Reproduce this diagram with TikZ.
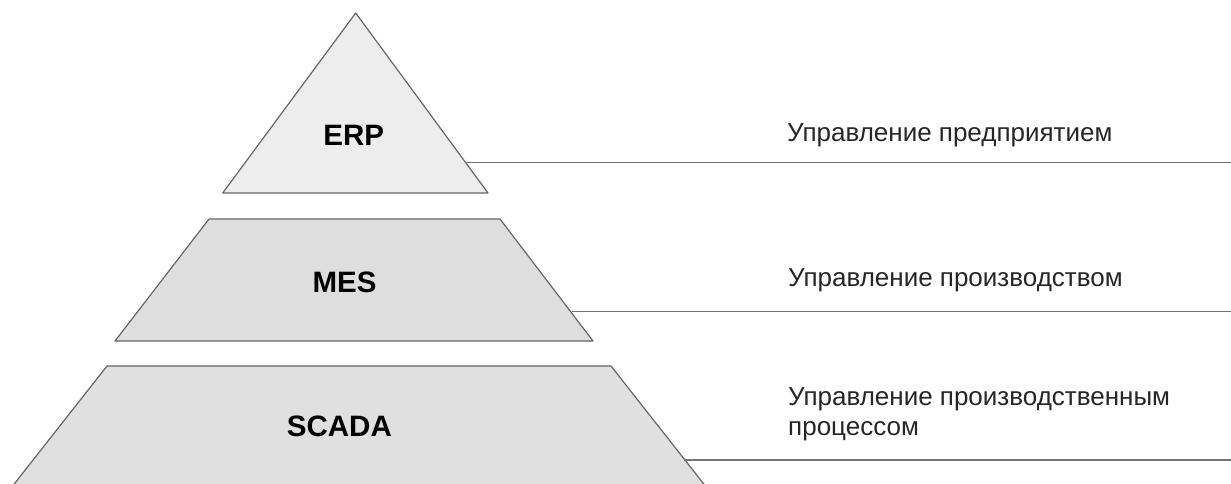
\documentclass[tikz,border=0pt]{standalone}
\usepackage{fontspec}
\setmainfont{Liberation Sans}
\usepackage{tikz}

\tikzset{
  tier/.style={draw=black!60, line width=1.2pt, line join=round},
  tiername/.style={font=\fontsize{29.5}{34}\selectfont\bfseries, inner sep=0pt},
  levellabel/.style={font=\fontsize{26}{30}\selectfont, anchor=base west, align=left, inner sep=0pt, text=black!85},
  leader/.style={draw=black!55, line width=1.2pt}
}

\begin{document}
\begin{tikzpicture}[x=1pt, y=-1pt]
    % Frame
    \useasboundingbox (0,0) rectangle (1231,483);
    \clip (0,0) rectangle (1231,483);

    % Pyramid tiers
    \draw[tier, fill=black!7] (355.7,13) -- (488,193) -- (222.7,193) -- cycle;
    \draw[tier, fill=black!13] (209,219) -- (500,219) -- (593,341) -- (115,341) -- cycle;
    \fill[black!12] (12.6,486) -- (107,366) -- (611,366) -- (705.4,486) -- cycle;
    \draw[tier] (12.6,486) -- (107,366) -- (611,366) -- (705.4,486);

    % Tier names
    \node[tiername] (erp) at (353.7,135) {ERP};
    \node[tiername] (mes) at (344.5,282) {MES};
    \node[tiername] (scada) at (339.4,426) {SCADA};

    % Leaders
    \coordinate (erpedge) at (466,162.7);
    \coordinate (erpend) at (1231,162.7);
    \coordinate (mesedge) at (572,311.7);
    \coordinate (mesend) at (1231,311.7);
    \coordinate (scadaedge) at (684,460);
    \coordinate (scadaend) at (1231,460);
    \draw[leader] (erpedge) -- (erpend);
    \draw[leader] (mesedge) -- (mesend);
    \draw[leader] (scadaedge) -- (scadaend);

    % Level descriptions (base = last line)
    \node[levellabel] (erptext) at (787,141.7) {Управление предприятием};
    \node[levellabel] (mestext) at (788,286) {Управление производством};
    \node[levellabel] (scadatext) at (788,435) {Управление производственным\\процессом};
\end{tikzpicture}
\end{document}
